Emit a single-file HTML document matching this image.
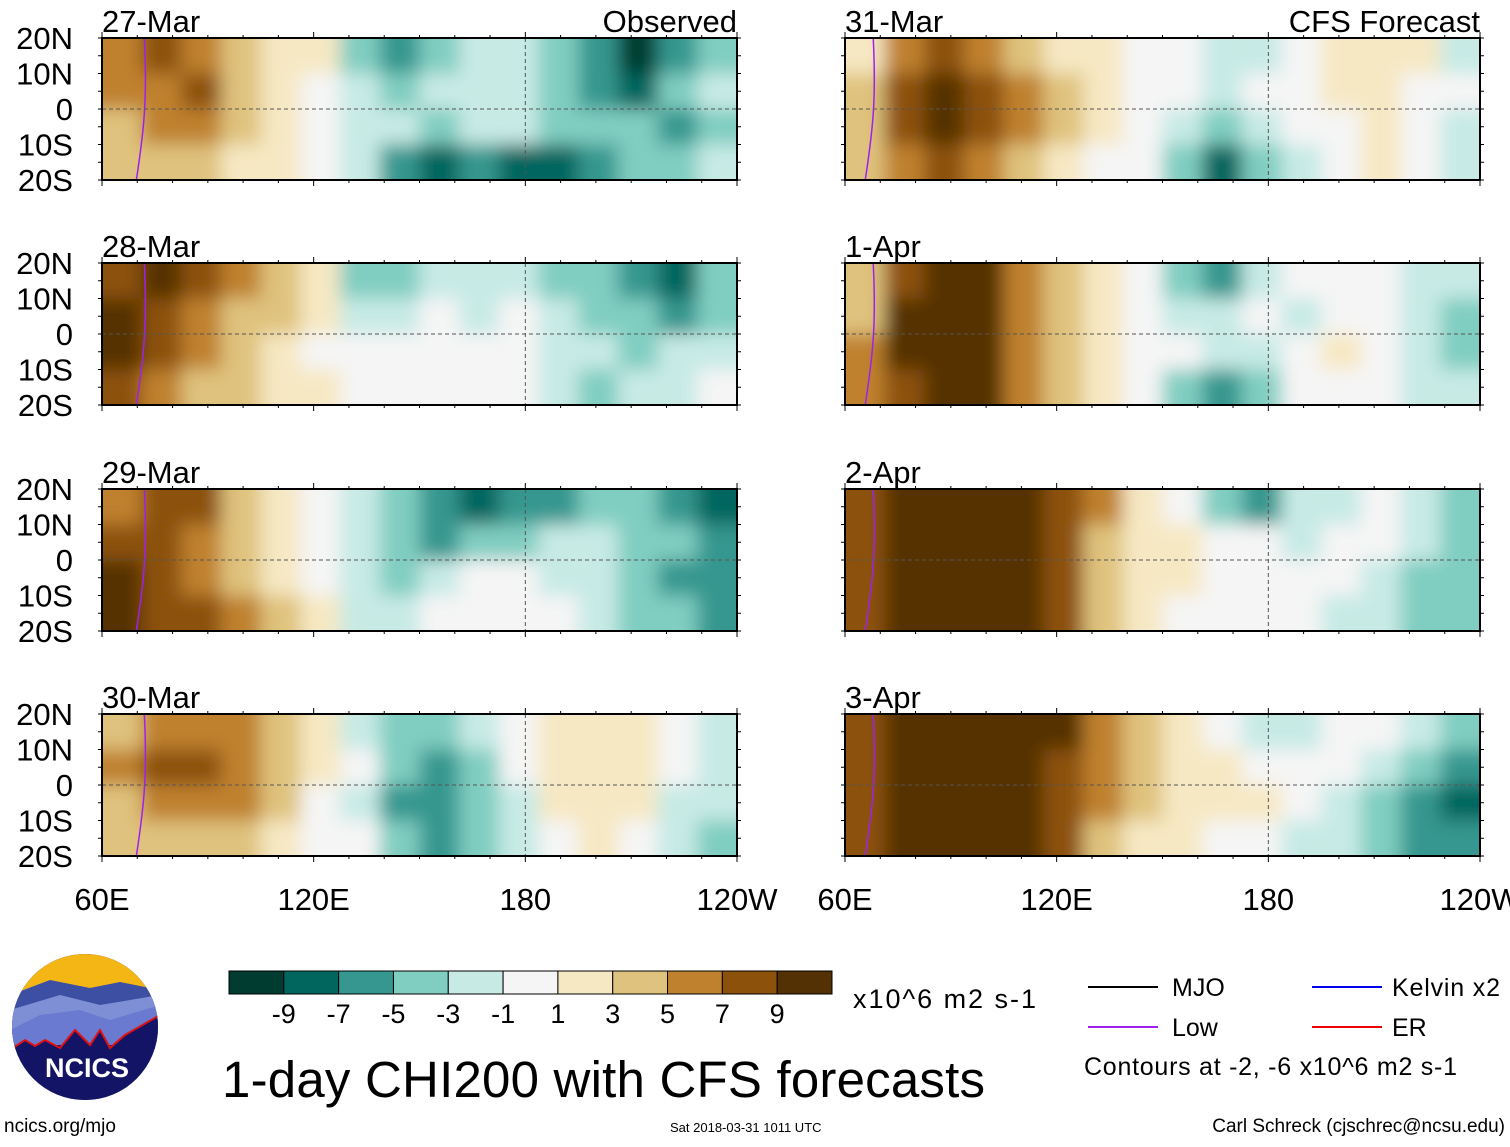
<!DOCTYPE html>
<html><head><meta charset="utf-8">
<style>
body{margin:0;background:#fff;font-family:"Liberation Sans",sans-serif;}
svg text{font-family:"Liberation Sans",sans-serif;}
</style></head>
<body>
<svg id="main" width="1510" height="1142" viewBox="0 0 1510 1142" xmlns="http://www.w3.org/2000/svg">
<defs>
<filter id="blur" filterUnits="userSpaceOnUse" x="0" y="0" width="1510" height="900"><feGaussianBlur stdDeviation="9"/></filter>
</defs>
<g id="panels"></g>
<g id="axes"></g>
<g>
<clipPath id="logoClip"><circle cx="85" cy="1027" r="73"/></clipPath>
<g clip-path="url(#logoClip)">
<rect x="10" y="950" width="150" height="160" fill="#1a1a6e"/>
<rect x="10" y="950" width="150" height="50" fill="#f4b614"/>
<path d="M10 995 L50 980 L90 988 L120 982 L160 990 L160 1040 L10 1040Z" fill="#3d4fa3"/>
<path d="M10 1010 L60 995 L100 1005 L160 995 L160 1040 L10 1040Z" fill="#7f8fd6"/>
<path d="M10 1030 L40 1015 L80 1010 L110 1020 L160 1005 L160 1045 L10 1045Z" fill="#6a7ad0"/>
<path d="M10 1050 L25 1040 L35 1046 L45 1040 L60 1048 L75 1030 L90 1045 L100 1030 L110 1048 L125 1035 L160 1015 L160 1120 L10 1120Z" fill="#141466" stroke="#e01010" stroke-width="2"/>
</g>
<text x="87" y="1077" font-size="27" font-weight="bold" fill="#fff" text-anchor="middle">NCICS</text>
</g>
<text x="4" y="1132" font-size="19">ncics.org/mjo</text>
<g id="cbar"></g>
<text x="853" y="1008" font-size="27" textLength="183">x10^6 m2 s-1</text>
<text x="222" y="1097" font-size="51" textLength="763">1-day CHI200 with CFS forecasts</text>
<text x="670" y="1132" font-size="13">Sat 2018-03-31 1011 UTC</text>
<text x="1505" y="1132" font-size="19" text-anchor="end">Carl Schreck (cjschrec@ncsu.edu)</text>
<g>
<line x1="1088" y1="987" x2="1158" y2="987" stroke="#000" stroke-width="2"/><text x="1172" y="996" font-size="25">MJO</text>
<line x1="1312" y1="987" x2="1382" y2="987" stroke="#0000ee" stroke-width="2"/><text x="1392" y="996" font-size="25" textLength="108">Kelvin x2</text>
<line x1="1088" y1="1027" x2="1158" y2="1027" stroke="#a020f0" stroke-width="2"/><text x="1172" y="1036" font-size="25">Low</text>
<line x1="1312" y1="1027" x2="1382" y2="1027" stroke="#ee0000" stroke-width="2"/><text x="1392" y="1036" font-size="25">ER</text>
<text x="1084" y="1075" font-size="25" textLength="373">Contours at -2, -6 x10^6 m2 s-1</text>
</g>
</svg>
<script>
const colors=['#003c30','#01665e','#35978f','#80cdc1','#c7eae5','#f5f5f5','#f6e8c3','#dfc27d','#bf812d','#8c510a','#543005'];
const cbarLabels=['-9','-7','-5','-3','-1','1','3','5','7','9'];
const panelTitles=['27-Mar','28-Mar','29-Mar','30-Mar','31-Mar','1-Apr','2-Apr','3-Apr'];
const latLabels=['20N','10N','0','10S','20S'];
const lonLabels=['60E','120E','180','120W'];
const p27=[[6,7,6,4,2,1,-4,-6,-4,-3,-3,-5,-7,-10,-6,-4],[5,6,7,4,2,0,-3,-4,-2,-2,-3,-5,-6,-8,-5,-3],[4,5,5,3,1,0,-2,-3,-4,-2,-2,-4,-5,-5,-6,-4],[3,4,3,2,1,-1,-3,-6,-8,-7,-8,-9,-7,-5,-4,-3]];
const p28=[[8,9,7,5,3,1,-5,-4,-2,-3,-2,-4,-5,-7,-8,-5],[9,8,6,4,3,1,-3,-2,-1,-2,-1,-3,-4,-5,-6,-4],[9,7,5,4,2,0,-1,0,-1,-1,0,-3,-3,-4,-3,-2],[8,6,4,3,2,1,0,-1,0,0,-1,-3,-4,-3,-2,-1]];
const p29=[[6,7,7,4,2,-1,-3,-5,-7,-8,-7,-6,-5,-4,-6,-8],[8,7,6,4,2,-1,-3,-4,-6,-5,-4,-3,-3,-4,-5,-7],[9,8,6,4,2,-1,-2,-4,-2,0,0,-2,-3,-4,-6,-6],[9,8,7,5,3,1,-2,-3,-1,0,0,-1,-3,-4,-5,-6]];
const p30=[[4,6,6,5,3,2,-2,-4,-5,-3,-1,1,2,2,-1,-2],[5,7,8,6,4,2,-1,-4,-6,-4,-1,1,2,1,-1,-2],[4,6,6,5,3,0,-2,-6,-7,-5,-2,1,2,1,-2,-3],[3,4,4,3,2,0,-1,-5,-7,-5,-2,0,1,0,-2,-5]];
const p31=[[1,6,7,5,3,2,1,-1,0,-2,-3,-1,1,2,1,-2],[3,8,9,7,5,3,1,0,-1,-3,-1,0,1,2,0,-1],[4,8,9,8,5,3,1,0,-2,-5,-3,-1,0,1,-1,-2],[3,6,7,6,4,2,0,-1,-4,-8,-5,-2,0,2,-1,-2]];
const pA1=[[3,7,9,9,6,3,1,-1,-5,-6,-3,-1,0,-1,-2,-3],[4,9,10,10,6,3,1,0,-2,-2,-1,-2,-1,0,-2,-4],[5,9,10,10,6,3,1,0,-1,-3,-2,0,1,0,-2,-4],[5,8,10,9,6,4,1,0,-5,-6,-4,-1,0,-1,-2,-3]];
const pA2=[[8,10,10,10,10,8,5,2,0,-4,-6,-3,-2,-1,-3,-4],[8,10,10,10,10,7,4,2,1,0,-1,-2,0,-1,-2,-4],[8,10,10,10,10,7,4,2,1,-1,0,0,-1,-2,-4,-5],[8,10,10,10,9,7,4,1,0,-1,0,-1,-2,-3,-5,-5]];
const pA3=[[8,10,10,10,10,9,6,3,1,-1,-3,-2,-1,-1,-2,-4],[8,10,10,10,10,8,5,3,2,1,0,0,-1,-2,-4,-6],[8,10,10,10,10,7,5,4,2,1,1,-1,-2,-4,-6,-8],[8,10,10,10,10,7,4,2,1,0,0,-2,-3,-4,-6,-7]];
const panelData=[p27,p28,p29,p30,p31,pA1,pA2,pA3];
const NS='http://www.w3.org/2000/svg';
const PW=635,PH=142,colX=[102,845],rowY=[38,263,489,714];
function mk(t,a,p){const e=document.createElementNS(NS,t);for(const k in a)e.setAttribute(k,a[k]);p.appendChild(e);return e;}
function colorOf(v){return colors[Math.min(10,Math.max(0,Math.floor((v+11)/2)))];}
function lonX(x0,lon){return x0+(lon-60)/180*PW;}
function latY(y0,lat){return y0+(20-lat)/40*PH;}
const panelsG=document.getElementById('panels'),axesG=document.getElementById('axes');
panelData.forEach((grid,pi)=>{
  const x0=colX[Math.floor(pi/4)],y0=rowY[pi%4];
  const g=mk('g',{},panelsG);
  
  
  const cp=mk('clipPath',{id:'clip'+pi},g);mk('rect',{x:x0,y:y0,width:PW,height:PH},cp);
  const cg=mk('g',{'clip-path':'url(#clip'+pi+')'},g);
  const fg=mk('g',{filter:'url(#blur)'},cg);
  const nc=grid[0].length,nr=grid.length,cw=PW/nc,rh=PH/nr;
  grid.forEach((row,r)=>row.forEach((v,c)=>{
    let x=x0+c*cw,y=y0+r*rh,w=cw+0.5,h=rh+0.5;
    if(c===0){x-=30;w+=30;} if(c===nc-1)w+=30;
    if(r===0){y-=30;h+=30;} if(r===nr-1)h+=30;
    const rc=mk('rect',{x:x,y:y,width:w,height:h,fill:colorOf(v)},fg);
    
    
  }));
  const lx=lonX(x0,pi<4?72:68);
  mk('path',{d:`M${lx-8} ${y0+PH} C${lx} ${y0+90} ${lx+3} ${y0+60} ${lx} ${y0}`,fill:'none',stroke:'#a020f0','stroke-width':1.5},cg);
  mk('line',{x1:x0,y1:latY(y0,0),x2:x0+PW,y2:latY(y0,0),stroke:'#555','stroke-dasharray':'4,3','stroke-width':1},g);
  mk('line',{x1:lonX(x0,180),y1:y0,x2:lonX(x0,180),y2:y0+PH,stroke:'#555','stroke-dasharray':'4,3','stroke-width':1},g);
  mk('rect',{x:x0,y:y0,width:PW,height:PH,fill:'none',stroke:'#000','stroke-width':2},g);
  for(let lon=60;lon<=240;lon+=10){const x=lonX(x0,lon),L=(lon%60===0)?6:3;
    mk('line',{x1:x,y1:y0,x2:x,y2:y0-L,stroke:'#000'},g);mk('line',{x1:x,y1:y0+PH,x2:x,y2:y0+PH+L,stroke:'#000'},g);}
  for(let lat=-20;lat<=20;lat+=5){const y=latY(y0,lat);
    mk('line',{x1:x0,y1:y,x2:x0-4,y2:y,stroke:'#000'},g);mk('line',{x1:x0+PW,y1:y,x2:x0+PW+4,y2:y,stroke:'#000'},g);}
  const t=mk('text',{x:x0,y:y0-6,'font-size':31},g);t.textContent=panelTitles[pi];
  
  if(pi===0){const o=mk('text',{x:x0+PW,y:y0-6,'font-size':31,'text-anchor':'end'},g);o.textContent='Observed';}
  if(pi===4){const o=mk('text',{x:x0+PW,y:y0-6,'font-size':31,'text-anchor':'end'},g);o.textContent='CFS Forecast';}
  if(pi<4){latLabels.forEach((lb,i)=>{const tt=mk('text',{x:73,y:y0+i*PH/4+11,'font-size':31,'text-anchor':'end'},axesG);tt.textContent=lb;
    });}
});
colX.forEach(x0=>lonLabels.forEach((lb,i)=>{const tt=mk('text',{x:x0+i*PW/3,y:910,'font-size':31,'text-anchor':'middle'},axesG);tt.textContent=lb;
  }));
const cb=document.getElementById('cbar');const bw=603/11;
colors.forEach((c,i)=>{const r=mk('rect',{x:229+i*bw,y:971,width:bw,height:23,fill:c,stroke:'#000','stroke-width':1},cb);
  });
cbarLabels.forEach((lb,i)=>{const t=mk('text',{x:229+(i+1)*bw,y:1023,'font-size':27,'text-anchor':'middle'},cb);t.textContent=lb;
  });
</script>
</body></html>
